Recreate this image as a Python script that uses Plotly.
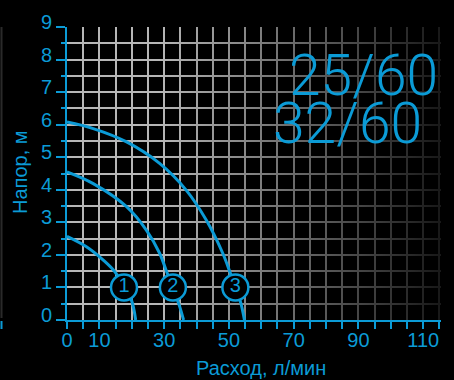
import plotly.graph_objects as go

# данные кривых (расход л/мин, напор м)
curve1_q = [0, 6.0, 11.2, 14.8, 17.6, 19.9, 21.2]
curve1_h = [2.57, 2.25, 1.84, 1.48, 1.0, 0.61, 0]
curve2_q = [0, 8.1, 18.4, 24.5, 28.6, 30.9, 32.7, 34.8, 36.0]
curve2_h = [4.55, 4.19, 3.48, 2.76, 2.05, 1.45, 1.0, 0.41, 0]
curve3_q = [0, 8.1, 18.4, 28.6, 36.8, 43.0, 48.1, 50.4, 52.0, 53.7, 54.8]
curve3_h = [6.08, 5.88, 5.47, 4.81, 3.99, 3.07, 2.05, 1.45, 1.02, 0.51, 0]

label_q = [17.6, 32.7, 52.0]
label_h = [1.0, 1.0, 1.0]
label_text = ["1", "2", "3"]

x_ticks = [0, 10, 30, 50, 70, 90, 110]
y_ticks = [0, 1, 2, 3, 4, 5, 6, 7, 8, 9]
models = ["25/60", "32/60"]

blue = "#0b9bd6"
grid = "#b6b6b6"
W, H = 454, 380
L, R, T, B = 67, 13, 27, 60
x_max = 115.5

fig = go.Figure()

# затемнение сетки вправо
fig.add_trace(
    go.Scatter(
        x=[0, x_max, x_max, 0, 0],
        y=[0, 0, 9, 9, 0],
        mode="lines",
        fill="toself",
        line=dict(width=0),
        fillgradient=dict(
            type="horizontal",
            colorscale=[
                [0, "rgba(0,0,0,0)"],
                [0.25, "rgba(0,0,0,0)"],
                [1, "rgba(0,0,0,0.87)"],
            ],
        ),
        hoverinfo="skip",
        showlegend=False,
    )
)

for q, h in [(curve1_q, curve1_h), (curve2_q, curve2_h), (curve3_q, curve3_h)]:
    fig.add_trace(
        go.Scatter(
            x=q,
            y=h,
            mode="lines",
            line=dict(color=blue, width=3, shape="spline", smoothing=1),
            hoverinfo="skip",
            showlegend=False,
        )
    )

fig.add_trace(
    go.Scatter(
        x=label_q,
        y=label_h,
        mode="markers+text",
        text=label_text,
        textposition="middle center",
        textfont=dict(family="Liberation Sans", size=20, color=blue),
        marker=dict(size=26, color="black", line=dict(color=blue, width=2.5)),
        hoverinfo="skip",
        showlegend=False,
    )
)

fig.update_layout(
    width=W,
    height=H,
    margin=dict(l=L, r=R, t=T, b=B),
    paper_bgcolor="black",
    plot_bgcolor="black",
    font=dict(family="Liberation Sans", color=blue, size=20),
    xaxis=dict(
        range=[0, x_max],
        tickvals=x_ticks,
        ticks="outside",
        ticklen=7,
        tickwidth=2,
        tickcolor=blue,
        showline=True,
        linecolor=blue,
        linewidth=2,
        showgrid=True,
        gridcolor=grid,
        gridwidth=2,
        zeroline=False,
        automargin=False,
        tickfont=dict(size=20, color=blue),
        ticklabelstandoff=-6,
        minor=dict(
            dtick=5,
            ticks="outside",
            ticklen=7,
            tickwidth=2,
            tickcolor=blue,
            showgrid=True,
            gridcolor=grid,
            gridwidth=2,
        ),
        fixedrange=True,
    ),
    yaxis=dict(
        range=[0, 9],
        tickvals=y_ticks,
        ticks="outside",
        ticklen=9,
        tickwidth=2,
        tickcolor=blue,
        showline=True,
        linecolor=blue,
        linewidth=2,
        showgrid=True,
        gridcolor=grid,
        gridwidth=2,
        zeroline=False,
        automargin=False,
        tickfont=dict(size=20, color=blue),
        ticklabelshift=-5,
        minor=dict(
            dtick=0.5,
            ticks="outside",
            ticklen=4,
            tickwidth=2,
            tickcolor=blue,
            showgrid=True,
            gridcolor=grid,
            gridwidth=2,
        ),
        fixedrange=True,
    ),
)

pw = W - L - R
ph = H - T - B

# подписи осей
fig.add_annotation(
    text="Напор, м",
    xref="paper",
    yref="paper",
    x=(20 - L) / pw,
    y=(H - B - 172) / ph,
    xanchor="center",
    yanchor="middle",
    textangle=-90,
    showarrow=False,
    font=dict(size=20, color=blue),
)
fig.add_annotation(
    text="Расход, л/мин",
    xref="paper",
    yref="paper",
    x=(261 - L) / pw,
    y=(H - B - 368) / ph,
    xanchor="center",
    yanchor="middle",
    showarrow=False,
    font=dict(size=20, color=blue),
)

# модели насоса
for txt, cx, cy in [(models[0], 363, 75), (models[1], 347, 123)]:
    fig.add_annotation(
        text=txt,
        xref="paper",
        yref="paper",
        x=(cx - L) / pw,
        y=(H - B - cy) / ph,
        xanchor="center",
        yanchor="middle",
        showarrow=False,
        font=dict(family="Roboto", weight=300, size=57, color=blue),
    )

# полоса слева
fig.add_shape(
    type="line",
    xref="paper",
    yref="paper",
    x0=(1.5 - L) / pw,
    x1=(1.5 - L) / pw,
    y0=(H - B - 27) / ph,
    y1=(H - B - 318) / ph,
    line=dict(color="#2a2a2a", width=2),
)
fig.add_shape(
    type="line",
    xref="paper",
    yref="paper",
    x0=(1.5 - L) / pw,
    x1=(1.5 - L) / pw,
    y0=(H - B - 321) / ph,
    y1=(H - B - 329) / ph,
    line=dict(color=blue, width=2),
)

fig.write_html(
    "out.html",
    config=dict(displayModeBar=False),
    post_script="document.body.style.margin='0';document.body.style.background='black';",
)
